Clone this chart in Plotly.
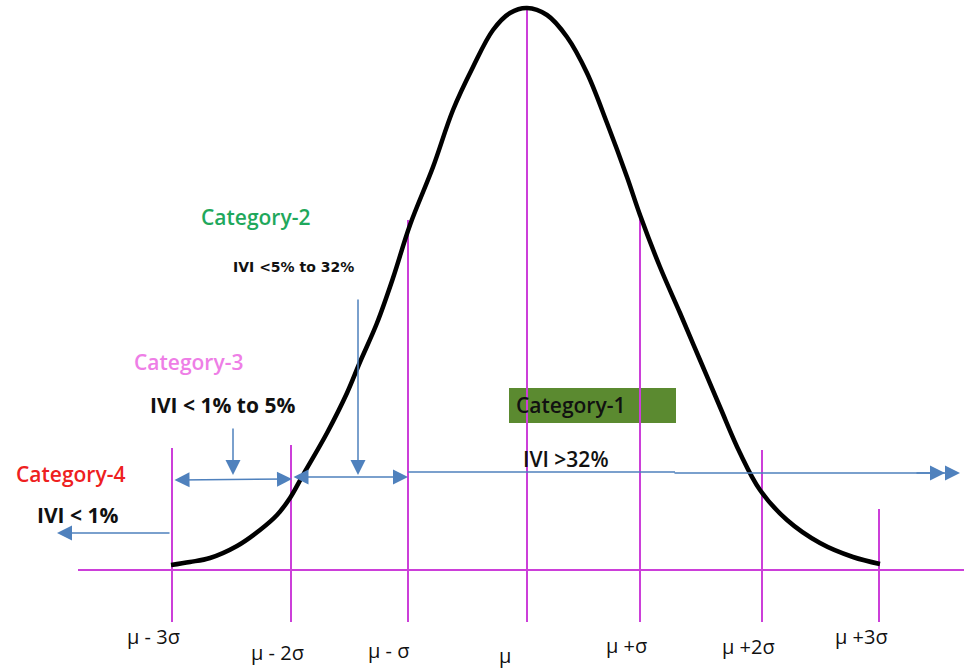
import plotly.graph_objects as go

# ---- data (x in px-like units along the axis, h = height above baseline) ----
curve_x = [171, 190, 210, 237, 260, 277, 290, 303, 327, 347, 360, 377, 393, 410, 433, 453,
           473, 493, 510, 527, 547, 567, 587, 607, 627, 640, 660, 680, 700, 720, 740, 760,
           787, 820, 853, 880]
curve_h = [5, 8, 12, 24, 40, 55, 72, 95, 137, 177, 208, 247, 292, 345, 403, 460,
           503, 540, 557, 562, 555, 533, 497, 447, 393, 355, 303, 257, 210, 163, 117, 80,
           50, 27, 13, 6]

sigma_x = [172, 291, 408, 527, 640, 762, 879]
sigma_top = [122, 125, 350, 562, 355, 120, 61]
sigma_labels = ["μ - 3σ", "μ - 2σ", "μ - σ", "μ", "μ +σ", "μ +2σ", "μ +3σ"]

categories = ["Category-1", "Category-2", "Category-3", "Category-4"]
ivi_labels = ["IVI >32%", "IVI <5% to 32%", "IVI < 1% to 5%", "IVI < 1%"]

# ---- layout helpers ----
BASE = 570  # pixel row of baseline
def h(py):
    return BASE - py

MAG = "#CC3FD9"
BLUE = "#4F81BD"
FONT = "Open Sans, Lato, sans-serif"

fig = go.Figure()

# baseline
fig.add_trace(go.Scatter(x=[78, 964], y=[0, 0], mode="lines",
                         line=dict(color=MAG, width=2), hoverinfo="skip", showlegend=False))
# sigma vertical lines
for sx, st in zip(sigma_x, sigma_top):
    fig.add_trace(go.Scatter(x=[sx, sx], y=[st, h(622)], mode="lines",
                             line=dict(color=MAG, width=2), hoverinfo="skip", showlegend=False))

# blue horizontal line (category-1)
fig.add_trace(go.Scatter(x=[408, 675], y=[h(472), h(472)], mode="lines",
                         line=dict(color=BLUE, width=1.5), hoverinfo="skip", showlegend=False))

# bell curve
fig.add_trace(go.Scatter(x=curve_x, y=curve_h, mode="lines",
                         line=dict(color="black", width=4.5, shape="spline", smoothing=1.0),
                         hoverinfo="skip", showlegend=False))

ann = []
def arrow(x1, y1, x0, y0, side="end", w=1.5, size=2.0):
    ann.append(dict(x=x1, y=h(y1), ax=x0, ay=h(y0), xref="x", yref="y", axref="x", ayref="y",
                    showarrow=True, arrowhead=2, arrowsize=size, arrowwidth=w,
                    arrowcolor=BLUE, arrowside=side, text=""))

# category-4 arrow (left)
arrow(57, 533, 171, 533)
# category-3 double arrow
arrow(292, 479, 173, 480, side="end+start")
# category-2 double arrow
arrow(408, 477, 292, 477, side="end+start")
# down arrows
arrow(233, 475, 233, 427)
arrow(358, 475, 358, 298)
# category-1 long arrow with double head
arrow(960, 473, 673, 473)
arrow(945, 473, 915, 473)

def text(t, x, y, size, color, bold=False, family=FONT, weight="normal"):
    ann.append(dict(x=x, y=h(y), xref="x", yref="y", showarrow=False,
                    text=f"<b>{t}</b>" if bold else t,
                    font=dict(family=family, size=size, color=color, weight=weight),
                    xanchor="center", yanchor="middle"))

text(categories[3], 70, 474, 21, "#EE2020", weight=600)
text(ivi_labels[3], 77, 515, 21, "#111111", bold=True)
text(categories[2], 188, 362, 21, "#EE7EE6", weight=600)
text(ivi_labels[2], 222, 405, 21, "#111111", bold=True)
text(categories[1], 255, 217, 21, "#1FA85C", weight=600)
text(ivi_labels[1], 293, 267, 14, "#111111", bold=True, family="DejaVu Sans")
text(ivi_labels[0], 566, 459, 21, "#111111", weight=600)
# category-1 box label
ann.append(dict(x=514, y=h(405), xref="x", yref="y", showarrow=False, text=categories[0],
                font=dict(family=FONT, size=21, color="#111111", weight=600),
                xanchor="left", yanchor="middle"))

label_pos = [(153, 636), (277, 652), (388, 650), (505, 655), (626, 645), (748, 646), (861, 636)]
for lab, (lx, ly) in zip(sigma_labels, label_pos):
    text(lab, lx, ly, 20, "#111111")

shapes = [dict(type="rect", xref="x", yref="y", x0=509, x1=676, y0=h(388), y1=h(423),
               fillcolor="#5B8A30", line=dict(width=0), layer="below")]

fig.update_layout(
    width=964, height=671, autosize=False,
    margin=dict(l=0, r=0, t=0, b=0),
    paper_bgcolor="white", plot_bgcolor="white",
    xaxis=dict(range=[0, 964], visible=False, fixedrange=True),
    yaxis=dict(range=[h(671), h(0)], visible=False, fixedrange=True),
    annotations=ann, shapes=shapes, showlegend=False,
)

fig.write_html("out.html", config={"displayModeBar": False},
               post_script="document.body.style.margin='0';document.body.style.overflow='hidden';")
